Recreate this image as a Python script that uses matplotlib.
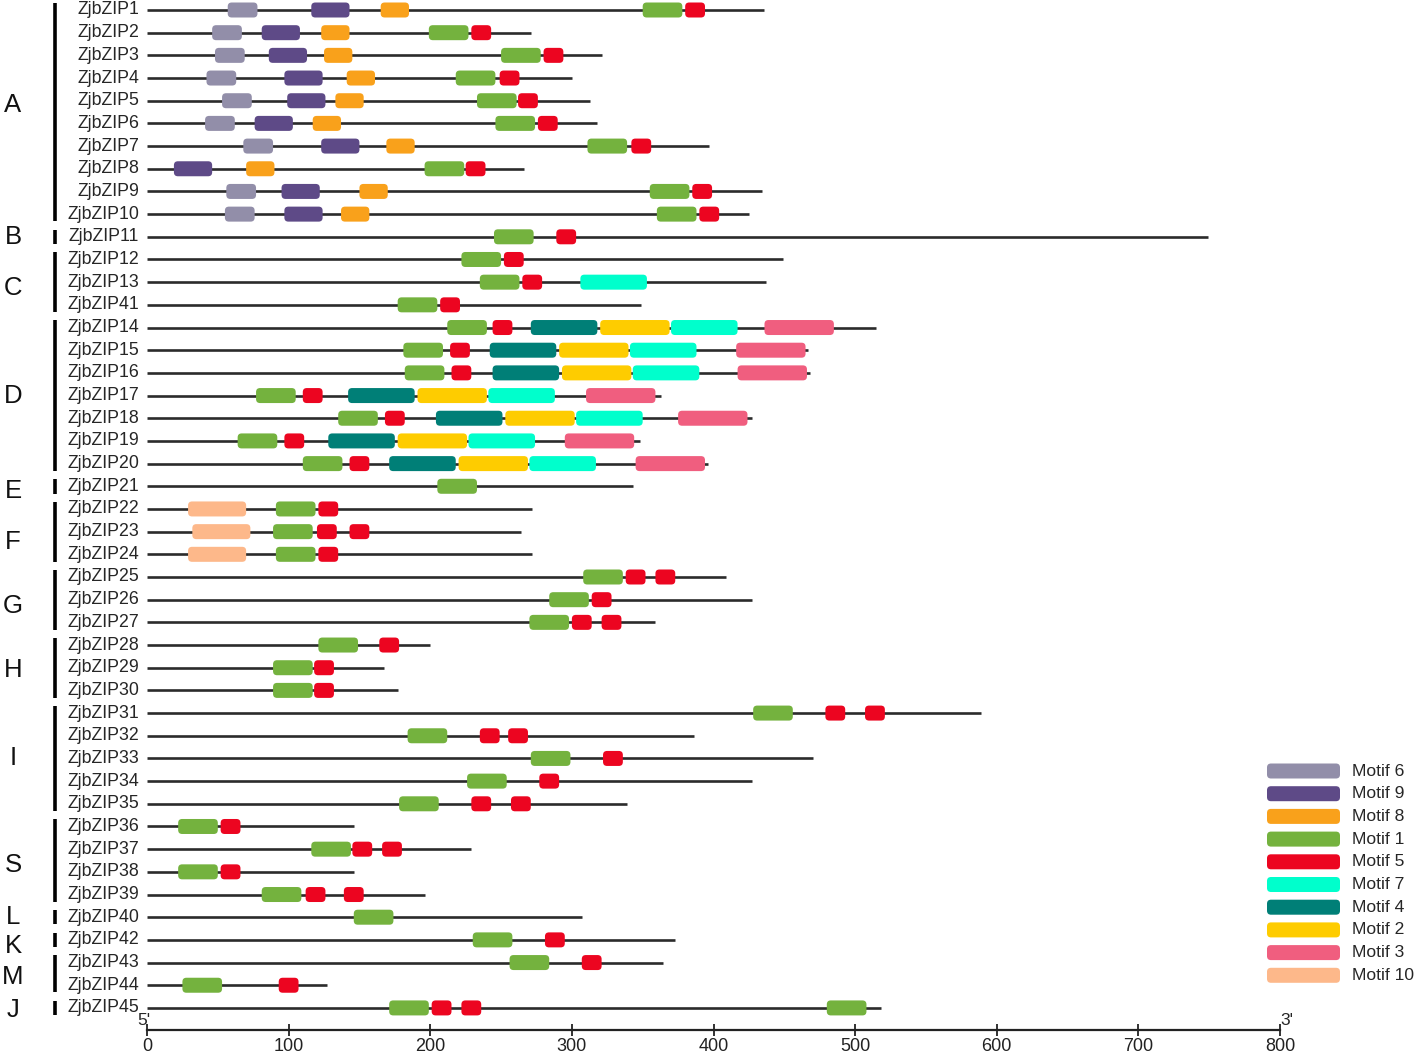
import matplotlib
matplotlib.use("Agg")
import matplotlib.pyplot as plt
from matplotlib.patches import FancyBboxPatch

plt.rcParams['font.family'] = ['Liberation Sans', 'DejaVu Sans']

# ---------------- data ----------------
genes = ["ZjbZIP1", "ZjbZIP2", "ZjbZIP3", "ZjbZIP4", "ZjbZIP5", "ZjbZIP6", "ZjbZIP7",
         "ZjbZIP8", "ZjbZIP9", "ZjbZIP10", "ZjbZIP11", "ZjbZIP12", "ZjbZIP13", "ZjbZIP41",
         "ZjbZIP14", "ZjbZIP15", "ZjbZIP16", "ZjbZIP17", "ZjbZIP18", "ZjbZIP19", "ZjbZIP20",
         "ZjbZIP21", "ZjbZIP22", "ZjbZIP23", "ZjbZIP24", "ZjbZIP25", "ZjbZIP26", "ZjbZIP27",
         "ZjbZIP28", "ZjbZIP29", "ZjbZIP30", "ZjbZIP31", "ZjbZIP32", "ZjbZIP33", "ZjbZIP34",
         "ZjbZIP35", "ZjbZIP36", "ZjbZIP37", "ZjbZIP38", "ZjbZIP39", "ZjbZIP40", "ZjbZIP42",
         "ZjbZIP43", "ZjbZIP44", "ZjbZIP45"]
lengths = [436, 271, 321, 300, 313, 318, 397, 266, 434, 425, 749, 449, 437, 349,
           515, 467, 468, 363, 427, 348, 396, 343, 272, 264, 272, 409, 427, 359,
           200, 167, 177, 589, 386, 470, 427, 339, 146, 229, 146, 196, 307, 373,
           364, 127, 518]

group_labels = ["A", "B", "C", "D", "E", "F", "G", "H", "I", "S", "L", "K", "M", "J"]
group_first = ["ZjbZIP1", "ZjbZIP11", "ZjbZIP12", "ZjbZIP14", "ZjbZIP21", "ZjbZIP22", "ZjbZIP25",
               "ZjbZIP28", "ZjbZIP31", "ZjbZIP36", "ZjbZIP40", "ZjbZIP42", "ZjbZIP43", "ZjbZIP45"]
group_last = ["ZjbZIP10", "ZjbZIP11", "ZjbZIP41", "ZjbZIP20", "ZjbZIP21", "ZjbZIP24", "ZjbZIP27",
              "ZjbZIP30", "ZjbZIP35", "ZjbZIP39", "ZjbZIP40", "ZjbZIP42", "ZjbZIP44", "ZjbZIP45"]
# small vertical nudges of the group letters (pixels, positive = down)
group_letter_nudge = [-7, 0, 6, 0, 5, 10, 6, 2, 0, 5, 0, 6, 3, 2]

motif_names = ["Motif 6", "Motif 9", "Motif 8", "Motif 1", "Motif 5",
               "Motif 7", "Motif 4", "Motif 2", "Motif 3", "Motif 10"]
motif_colors = ["#928EA9", "#5E4A87", "#F9A11B", "#74B23E", "#EC0520",
                "#00FFCC", "#007F77", "#FECC00", "#F05E7F", "#FDB88A"]
motif_widths = [21, 27, 20, 28, 14, 47, 47, 49, 49, 41]

# motif sites: (gene, start)
motif6_sites = [("ZjbZIP1", 57), ("ZjbZIP2", 46), ("ZjbZIP3", 48), ("ZjbZIP4", 42), ("ZjbZIP5", 53),
                ("ZjbZIP6", 41), ("ZjbZIP7", 68), ("ZjbZIP9", 56), ("ZjbZIP10", 55)]
motif9_sites = [("ZjbZIP1", 116), ("ZjbZIP2", 81), ("ZjbZIP3", 86), ("ZjbZIP4", 97), ("ZjbZIP5", 99),
                ("ZjbZIP6", 76), ("ZjbZIP7", 123), ("ZjbZIP8", 19), ("ZjbZIP9", 95), ("ZjbZIP10", 97)]
motif8_sites = [("ZjbZIP1", 165), ("ZjbZIP2", 123), ("ZjbZIP3", 125), ("ZjbZIP4", 141), ("ZjbZIP5", 133),
                ("ZjbZIP6", 117), ("ZjbZIP7", 169), ("ZjbZIP8", 70), ("ZjbZIP9", 150), ("ZjbZIP10", 137)]
motif1_sites = [("ZjbZIP1", 350), ("ZjbZIP2", 199), ("ZjbZIP3", 250), ("ZjbZIP4", 218), ("ZjbZIP5", 233),
                ("ZjbZIP6", 246), ("ZjbZIP7", 311), ("ZjbZIP8", 196), ("ZjbZIP9", 355), ("ZjbZIP10", 360),
                ("ZjbZIP11", 245), ("ZjbZIP12", 222), ("ZjbZIP13", 235), ("ZjbZIP41", 177), ("ZjbZIP14", 212),
                ("ZjbZIP15", 181), ("ZjbZIP16", 182), ("ZjbZIP17", 77), ("ZjbZIP18", 135), ("ZjbZIP19", 64),
                ("ZjbZIP20", 110), ("ZjbZIP21", 205), ("ZjbZIP22", 91), ("ZjbZIP23", 89), ("ZjbZIP24", 91),
                ("ZjbZIP25", 308), ("ZjbZIP26", 284), ("ZjbZIP27", 270), ("ZjbZIP28", 121), ("ZjbZIP29", 89),
                ("ZjbZIP30", 89), ("ZjbZIP31", 428), ("ZjbZIP32", 184), ("ZjbZIP33", 271), ("ZjbZIP34", 226),
                ("ZjbZIP35", 178), ("ZjbZIP36", 22), ("ZjbZIP37", 116), ("ZjbZIP38", 22), ("ZjbZIP39", 81),
                ("ZjbZIP40", 146), ("ZjbZIP42", 230), ("ZjbZIP43", 256), ("ZjbZIP44", 25), ("ZjbZIP45", 171),
                ("ZjbZIP45", 480)]
motif5_sites = [("ZjbZIP1", 380), ("ZjbZIP2", 229), ("ZjbZIP3", 280), ("ZjbZIP4", 249), ("ZjbZIP5", 262),
                ("ZjbZIP6", 276), ("ZjbZIP7", 342), ("ZjbZIP8", 225), ("ZjbZIP9", 385), ("ZjbZIP10", 390),
                ("ZjbZIP11", 289), ("ZjbZIP12", 252), ("ZjbZIP13", 265), ("ZjbZIP41", 207), ("ZjbZIP14", 244),
                ("ZjbZIP15", 214), ("ZjbZIP16", 215), ("ZjbZIP17", 110), ("ZjbZIP18", 168), ("ZjbZIP19", 97),
                ("ZjbZIP20", 143), ("ZjbZIP22", 121), ("ZjbZIP23", 120), ("ZjbZIP23", 143), ("ZjbZIP24", 121),
                ("ZjbZIP25", 338), ("ZjbZIP25", 359), ("ZjbZIP26", 314), ("ZjbZIP27", 300), ("ZjbZIP27", 321),
                ("ZjbZIP28", 164), ("ZjbZIP29", 118), ("ZjbZIP30", 118), ("ZjbZIP31", 479), ("ZjbZIP31", 507),
                ("ZjbZIP32", 235), ("ZjbZIP32", 255), ("ZjbZIP33", 322), ("ZjbZIP34", 277), ("ZjbZIP35", 229),
                ("ZjbZIP35", 257), ("ZjbZIP36", 52), ("ZjbZIP37", 145), ("ZjbZIP37", 166), ("ZjbZIP38", 52),
                ("ZjbZIP39", 112), ("ZjbZIP39", 139), ("ZjbZIP42", 281), ("ZjbZIP43", 307), ("ZjbZIP44", 93),
                ("ZjbZIP45", 201), ("ZjbZIP45", 222)]
motif7_sites = [("ZjbZIP13", 306), ("ZjbZIP14", 370), ("ZjbZIP15", 341), ("ZjbZIP16", 343),
                ("ZjbZIP17", 241), ("ZjbZIP18", 303), ("ZjbZIP19", 227), ("ZjbZIP20", 270)]
motif4_sites = [("ZjbZIP14", 271), ("ZjbZIP15", 242), ("ZjbZIP16", 244), ("ZjbZIP17", 142),
                ("ZjbZIP18", 204), ("ZjbZIP19", 128), ("ZjbZIP20", 171)]
motif2_sites = [("ZjbZIP14", 320), ("ZjbZIP15", 291), ("ZjbZIP16", 293), ("ZjbZIP17", 191),
                ("ZjbZIP18", 253), ("ZjbZIP19", 177), ("ZjbZIP20", 220)]
motif3_sites = [("ZjbZIP14", 436), ("ZjbZIP15", 416), ("ZjbZIP16", 417), ("ZjbZIP17", 310),
                ("ZjbZIP18", 375), ("ZjbZIP19", 295), ("ZjbZIP20", 345)]
motif10_sites = [("ZjbZIP22", 29), ("ZjbZIP23", 32), ("ZjbZIP24", 29)]

all_sites = [motif6_sites, motif9_sites, motif8_sites, motif1_sites, motif5_sites,
             motif7_sites, motif4_sites, motif2_sites, motif3_sites, motif10_sites]

x_ticks = [0, 100, 200, 300, 400, 500, 600, 700, 800]

# ---------------- layout ----------------
W, H = 1418, 1053
fig = plt.figure(figsize=(W / 100, H / 100), dpi=100)
x0_px, x1_px = 147, 1280
row0_px, row_step = 10, 22.68
axis_px = 1030
ax = fig.add_axes([x0_px / W, (H - axis_px) / H, (x1_px - x0_px) / W, axis_px / H])
y_top = 1 - row0_px / row_step
y_bot = 1 + (axis_px - row0_px) / row_step
ax.set_xlim(0, 800)
ax.set_ylim(y_bot, y_top)

px_per_x = (x1_px - x0_px) / 800.0
aspect = px_per_x / row_step  # y units per x unit
row_of = {g: i + 1 for i, g in enumerate(genes)}
txt_col = "#262626"

# gene lines and labels
for g, L in zip(genes, lengths):
    y = row_of[g]
    ax.plot([0, L], [y, y], color="#2b2b2b", lw=1.9, solid_capstyle="butt", zorder=1)
    ax.text(-5.5, y, g, ha="right", va="center", fontsize=12.8, color=txt_col, clip_on=False)

box_h = 15 / row_step
rad = 4 / px_per_x
for sites, col, w in zip(all_sites, motif_colors, motif_widths):
    for g, s in sites:
        y = row_of[g]
        p = FancyBboxPatch((s, y - box_h / 2), w, box_h,
                           boxstyle=f"round,pad=0,rounding_size={rad}",
                           mutation_aspect=aspect, facecolor=col, edgecolor="none",
                           zorder=3)
        ax.add_patch(p)

# group bars and letters
bar_x = (55 - x0_px) / px_per_x
letter_x = (13 - x0_px) / px_per_x
for lab, gf, gl, nd in zip(group_labels, group_first, group_last, group_letter_nudge):
    ya, yb = row_of[gf], row_of[gl]
    ax.plot([bar_x, bar_x], [ya - 0.32, yb + 0.32], color="black", lw=2.6,
            clip_on=False, solid_capstyle="butt")
    ax.text(letter_x, (ya + yb) / 2 + nd / row_step, lab, ha="center", va="center",
            fontsize=18.5, color="#111111", clip_on=False)

# legend (manual)
leg_y0 = 1 + (771 - row0_px) / row_step
leg_bx0 = (1267 - x0_px) / px_per_x
leg_bw = 73 / px_per_x
leg_tx = (1352 - x0_px) / px_per_x
for k, (name, col) in enumerate(zip(motif_names, motif_colors)):
    y = leg_y0 + k * (22.7 / row_step)
    p = FancyBboxPatch((leg_bx0, y - box_h / 2), leg_bw, box_h,
                       boxstyle=f"round,pad=0,rounding_size={rad}",
                       mutation_aspect=aspect, facecolor=col, edgecolor="none",
                       clip_on=False, zorder=3)
    ax.add_patch(p)
    ax.text(leg_tx, y, name, ha="left", va="center", fontsize=12.6, color=txt_col,
            clip_on=False)

# axis styling
for sp in ["top", "right", "left"]:
    ax.spines[sp].set_visible(False)
ax.spines["bottom"].set_linewidth(1.6)
ax.spines["bottom"].set_color("#222222")
ax.set_yticks([])
ax.set_xticks(x_ticks)
ax.tick_params(axis="x", direction="inout", length=9, width=1.3, labelsize=13,
               pad=1, colors="#222222")
ax.text(-2, y_bot - 0.1, "5'", ha="center", va="bottom", fontsize=12.5, color=txt_col,
        clip_on=False)
ax.text(805, y_bot - 0.1, "3'", ha="center", va="bottom", fontsize=12.5, color=txt_col,
        clip_on=False)

fig.savefig("out.png", dpi=100, facecolor="white")
